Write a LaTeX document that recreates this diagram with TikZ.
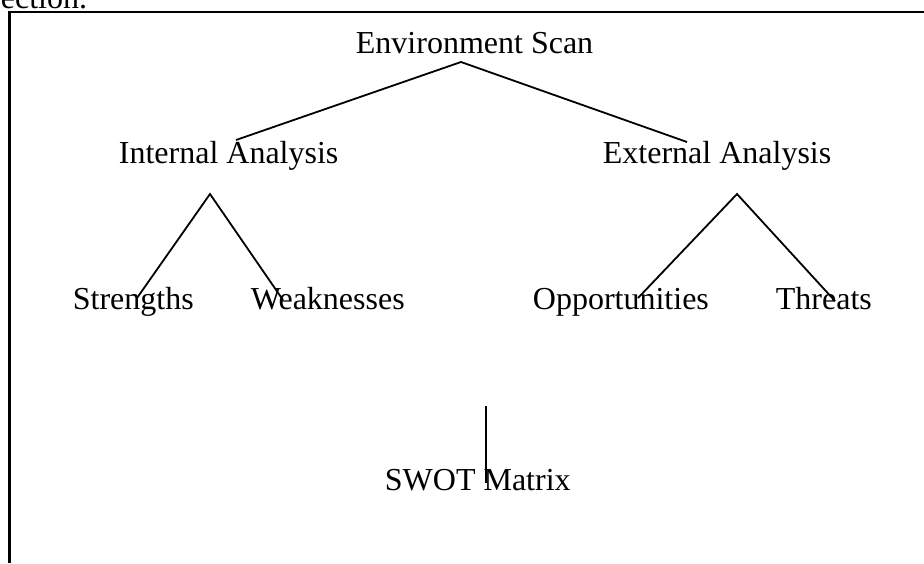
\documentclass[tikz,border=0pt]{standalone}
\usepackage{fontspec}
\setmainfont{Liberation Serif}
\usetikzlibrary{positioning}

\begin{document}
\begin{tikzpicture}[x=0.5pt, y=-0.5pt, line width=0.9pt,
    lbl/.style={anchor=base west, inner sep=0pt, font=\fontsize{16}{19}\selectfont}]
        \useasboundingbox (0,0) rectangle (924,563);
        \clip (0,0) rectangle (924,563);
        % text cut off above the frame
        \node[lbl, anchor=base east] (cut) at (88,8) {ection.};
        \draw[line width=1.1pt] (9.5,563) -- (9.5,12) -- (924,12);

        \node[lbl] (env) at (355,53) {Environment Scan};
        \node[lbl] (int) at (118,163) {Internal Analysis};
        \node[lbl] (ext) at (602,163) {External Analysis};
        \node[lbl] (str) at (72,309) {Strengths};
        \node[lbl] (weak) at (250,309) {Weaknesses};
        \node[lbl] (opp) at (532,309) {Opportunities};
        \node[lbl] (thr) at (775,309) {Threats};
        \node[lbl] (swot) at (384,490) {SWOT Matrix};

        % line ends
        \coordinate (envtop) at (461,62);
        \coordinate (intend) at (236,140);
        \coordinate (extend) at (687,142);
        \coordinate (inttop) at (210,194);
        \coordinate (strend) at (137,298);
        \coordinate (weakend) at (283,300);
        \coordinate (exttop) at (737,194);
        \coordinate (oppend) at (638,298);
        \coordinate (thrend) at (835,301);
        \coordinate (swottop) at (486,406);
        \coordinate (swotend) at (486,483);

        \draw (intend) -- (envtop) -- (extend);
        \draw (strend) -- (inttop) -- (weakend);
        \draw (oppend) -- (exttop) -- (thrend);
        \draw (swottop) -- (swotend);
      \end{tikzpicture}
\end{document}
